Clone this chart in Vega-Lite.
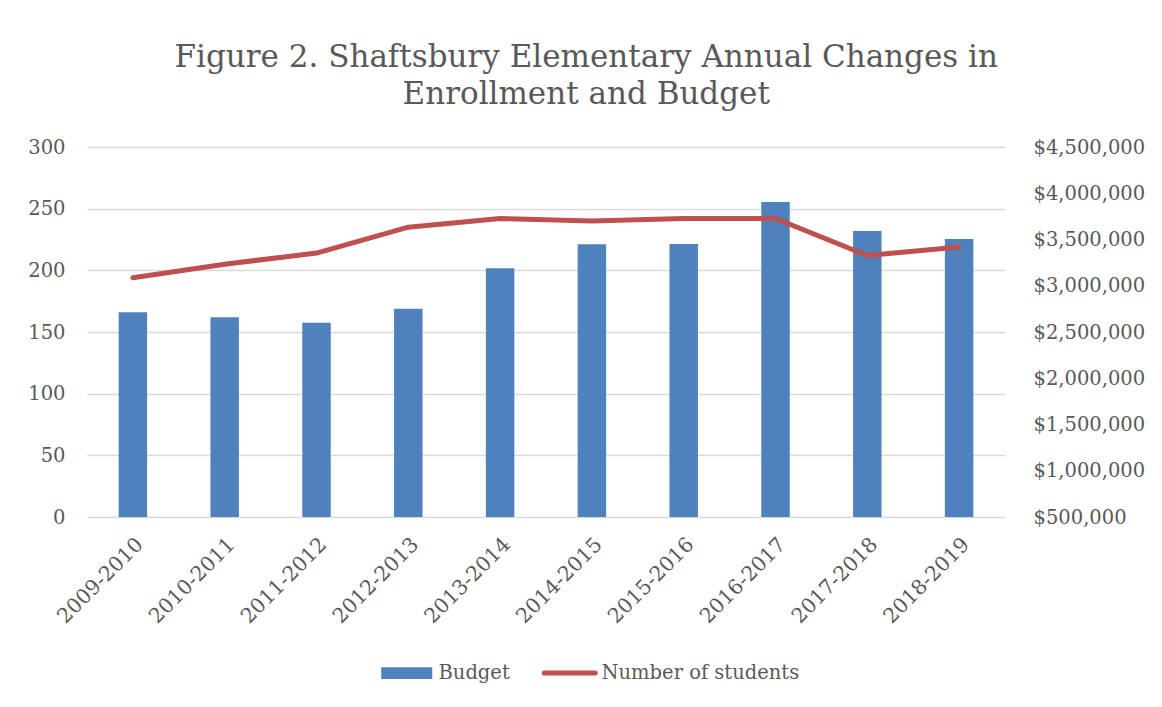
{
  "$schema": "https://vega.github.io/schema/vega-lite/v6.json",
  "width": 918,
  "height": 370,
  "autosize": {"type": "none"},
  "padding": {"left": 87, "top": 147, "right": 157, "bottom": 190},
  "background": "white",
  "config": {"view": {"stroke": null}, "font": "DejaVu Serif"},
  "title": {
    "text": ["Figure 2. Shaftsbury Elementary Annual Changes in", "Enrollment and Budget"],
    "font": "DejaVu Serif",
    "fontSize": 31,
    "fontWeight": "normal",
    "color": "#595959",
    "anchor": "middle",
    "frame": "bounds",
    "offset": 26,
    "lineHeight": 37
  },
  "data": {
    "values": [
      {"year": "2009-2010", "budget": 2713000, "students": 194},
      {"year": "2010-2011", "budget": 2659000, "students": 205},
      {"year": "2011-2012", "budget": 2601000, "students": 214},
      {"year": "2012-2013", "budget": 2752000, "students": 235},
      {"year": "2013-2014", "budget": 3188000, "students": 242},
      {"year": "2014-2015", "budget": 3448000, "students": 240},
      {"year": "2015-2016", "budget": 3451000, "students": 242},
      {"year": "2016-2017", "budget": 3905000, "students": 242},
      {"year": "2017-2018", "budget": 3592000, "students": 212},
      {"year": "2018-2019", "budget": 3505000, "students": 219}
    ]
  },
  "encoding": {
    "x": {
      "field": "year",
      "type": "nominal",
      "sort": null,
      "scale": {"paddingInner": 0.69, "paddingOuter": 0.345},
      "axis": {
        "title": null,
        "labelAngle": -45,
        "labelFont": "DejaVu Serif",
        "labelFontSize": 20.5,
        "labelColor": "#595959",
        "ticks": false,
        "domain": false,
        "grid": false,
        "labelPadding": 17
      }
    }
  },
  "layer": [
    {
      "mark": {"type": "bar"},
      "encoding": {
        "y": {
          "field": "budget",
          "type": "quantitative",
          "scale": {"domain": [500000, 4500000], "zero": false, "nice": false},
          "axis": {
            "orient": "right",
            "title": null,
            "values": [500000, 1000000, 1500000, 2000000, 2500000, 3000000, 3500000, 4000000, 4500000],
            "format": "$,.0f",
            "grid": false,
            "domain": false,
            "ticks": false,
            "labelPadding": 28,
            "labelFlush": false,
            "labelFont": "DejaVu Serif",
            "labelFontSize": 19.5,
            "labelColor": "#595959"
          }
        },
        "y2": {"datum": 500000},
        "color": {
          "datum": "Budget",
          "scale": {"domain": ["Budget", "Number of students"], "range": ["#4F81BD", "#C0504D"]},
          "legend": {
            "orient": "none",
            "legendX": 310,
            "legendY": 516,
            "direction": "horizontal",
            "title": null,
            "padding": 0,
            "labelFont": "DejaVu Serif",
            "labelFontSize": 19.5,
            "labelColor": "#595959",
            "labelOffset": 22,
            "labelLimit": 500,
            "columnPadding": 24,
            "symbolSize": 2601,
            "encode": {
              "symbols": {
                "update": {
                  "shape": {"signal": "datum.value === 'Budget' ? 'M-1,-0.235H1V0.235H-1Z' : 'stroke'"},
                  "fill": {"signal": "datum.value === 'Budget' ? '#4F81BD' : 'transparent'"},
                  "stroke": {"signal": "datum.value === 'Budget' ? 'transparent' : '#C0504D'"},
                  "strokeWidth": {"signal": "datum.value === 'Budget' ? 0 : 5"},
                  "strokeCap": {"value": "round"}
                }
              }
            }
          }
        }
      }
    },
    {
      "mark": {"type": "line", "strokeWidth": 5, "strokeCap": "round", "strokeJoin": "round"},
      "encoding": {
        "y": {
          "field": "students",
          "type": "quantitative",
          "scale": {"domain": [0, 300], "nice": false},
          "axis": {
            "orient": "left",
            "title": null,
            "values": [0, 50, 100, 150, 200, 250, 300],
            "grid": true,
            "gridColor": "#D9D9D9",
            "gridWidth": 1.3,
            "domain": false,
            "ticks": false,
            "labelPadding": 22,
            "labelFlush": false,
            "labelFont": "DejaVu Serif",
            "labelFontSize": 19.5,
            "labelColor": "#595959"
          }
        },
        "color": {"datum": "Number of students"}
      }
    }
  ],
  "resolve": {"scale": {"y": "independent"}}
}
